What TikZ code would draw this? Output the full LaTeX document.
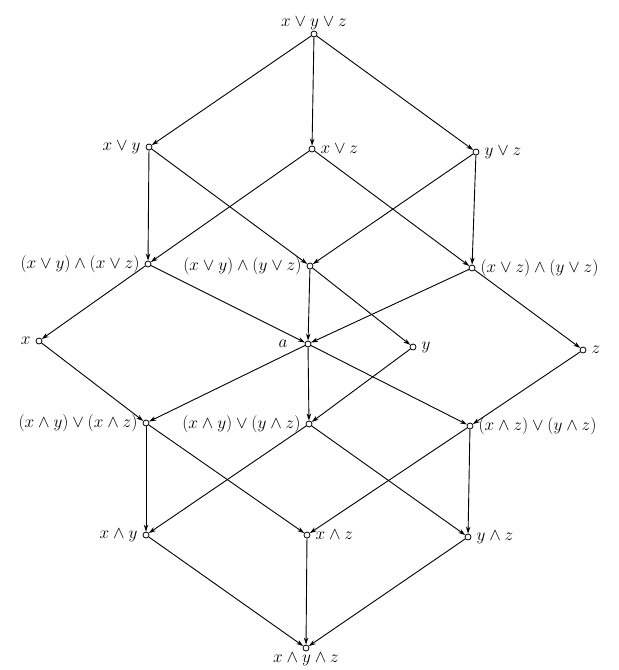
\documentclass[tikz,border=0pt]{standalone}
\usetikzlibrary{arrows.meta}
\begin{document}
\begin{tikzpicture}[x=1pt,y=-1pt,
	vertex/.style={circle,draw,fill=white,inner sep=0pt,minimum size=6pt,line width=0.8pt},
	every label/.style={font=\LARGE,inner sep=1pt,label distance=4pt},
	edge/.style={line width=0.9pt,-{Stealth[length=7pt,width=4.5pt]}}]
	\useasboundingbox (0,0) rectangle (619,670);
	% top and joins
	\node [vertex,label={[label distance=0pt]above:$x\vee y\vee z$}] (top) at (314,34) {};
	\node [vertex,label=left:$x\vee y$] (xory) at (149,147) {};
	\node [vertex,label=right:$x\vee z$] (xorz) at (312,149) {};
	\node [vertex,label=right:$y\vee z$] (yorz) at (476,152) {};
	\node [vertex,label=left:{$(x\vee y)\wedge(x\vee z)$}] (xyxz) at (148,264) {};
	\node [vertex,label=left:{$(x\vee y)\wedge(y\vee z)$}] (xyyz) at (310,266) {};
	\node [vertex,label=right:{$(x\vee z)\wedge(y\vee z)$}] (xzyz) at (472,268) {};
	% middle row
	\node [vertex,label=left:$x$] (x) at (39,341) {};
	\node [vertex,label={[label distance=16pt]left:$a$}] (a) at (308,344) {};
	\node [vertex,label=right:$y$] (y) at (413,347) {};
	\node [vertex,label=right:$z$] (z) at (583,350) {};
	% meets and bottom
	\node [vertex,label=left:{$(x\wedge y)\vee(x\wedge z)$}] (mxy) at (146,423) {};
	\node [vertex,label=left:{$(x\wedge y)\vee(y\wedge z)$}] (myz) at (309,424) {};
	\node [vertex,label=right:{$(x\wedge z)\vee(y\wedge z)$}] (mxz) at (470,426) {};
	\node [vertex,label=left:$x\wedge y$] (xandy) at (146,535) {};
	\node [vertex,label=right:$x\wedge z$] (xandz) at (307,535) {};
	\node [vertex,label=right:$y\wedge z$] (yandz) at (468,537) {};
	\node [vertex,label={[label distance=0pt]below:$x\wedge y\wedge z$}] (bot) at (306,648) {};
	% edges
	\draw [edge] (top) -- (xory);
	\draw [edge] (top) -- (xorz);
	\draw [edge] (top) -- (yorz);
	\draw [edge] (xory) -- (xyxz);
	\draw [edge] (xory) -- (xyyz);
	\draw [edge] (xorz) -- (xyxz);
	\draw [edge] (xorz) -- (xzyz);
	\draw [edge] (yorz) -- (xyyz);
	\draw [edge] (yorz) -- (xzyz);
	\draw [edge] (xyxz) -- (x);
	\draw [edge] (xyxz) -- (a);
	\draw [edge] (xyyz) -- (a);
	\draw [edge] (xyyz) -- (y);
	\draw [edge] (xzyz) -- (a);
	\draw [edge] (xzyz) -- (z);
	\draw [edge] (x) -- (mxy);
	\draw [edge] (a) -- (mxy);
	\draw [edge] (a) -- (myz);
	\draw [edge] (a) -- (mxz);
	\draw [edge] (y) -- (myz);
	\draw [edge] (z) -- (mxz);
	\draw [edge] (mxy) -- (xandy);
	\draw [edge] (mxy) -- (xandz);
	\draw [edge] (myz) -- (xandy);
	\draw [edge] (myz) -- (yandz);
	\draw [edge] (mxz) -- (xandz);
	\draw [edge] (mxz) -- (yandz);
	\draw [edge] (xandy) -- (bot);
	\draw [edge] (xandz) -- (bot);
	\draw [edge] (yandz) -- (bot);
\end{tikzpicture}
\end{document}
